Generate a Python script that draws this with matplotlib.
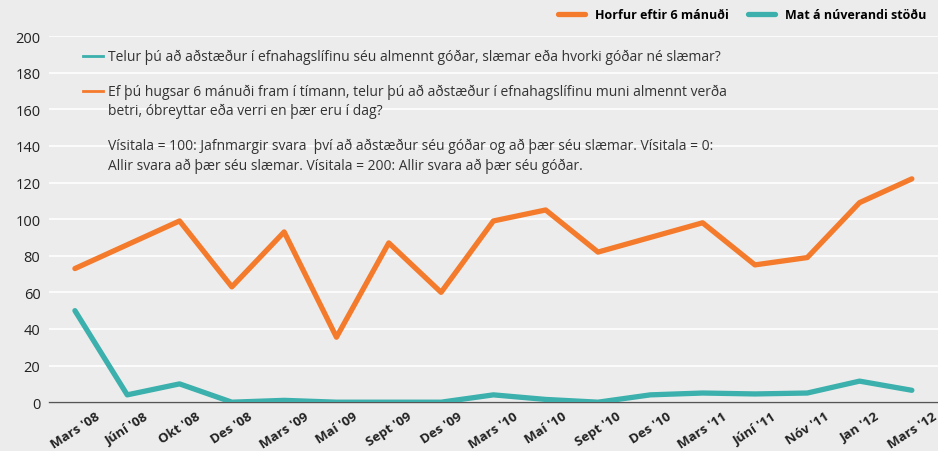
import matplotlib.pyplot as plt

plt.rcParams['font.family'] = ['Open Sans', 'DejaVu Sans']

labels = ["Mars '08", "Júní '08", "Okt '08", "Des '08", "Mars '09", "Maí '09",
          "Sept '09", "Des '09", "Mars '10", "Maí '10", "Sept '10", "Des '10",
          "Mars '11", "Júní '11", "Nóv '11", "Jan '12", "Mars '12"]
horfur = [73, 86, 99, 63, 93, 35.5, 87, 60, 99, 105, 82, 90, 98, 75, 79, 109, 122]
mat = [50, 4, 10, 0, 1, 0, 0, 0, 4, 1.5, 0, 4, 5, 4.5, 5, 11.5, 6.5]

orange = '#f47a2c'
teal = '#3bb0ac'
bg = '#ececec'

fig = plt.figure(figsize=(9.38, 4.52), dpi=100, facecolor=bg)
ax = fig.add_axes([0.052, 0.108, 0.948, 0.81], facecolor=bg)

x = list(range(len(labels)))
ax.plot(x, horfur, color=orange, lw=3.8, solid_capstyle='round', label='Horfur eftir 6 mánuði', zorder=3)
ax.plot(x, mat, color=teal, lw=3.8, solid_capstyle='round', label='Mat á núverandi stöðu', zorder=3)

ax.set_xlim(-0.5, 16.5)
ax.set_ylim(0, 200)
ax.set_yticks(range(0, 201, 20))
ax.grid(axis='y', color='white', lw=1.2)
ax.set_axisbelow(True)
for s in ['top', 'right', 'left']:
    ax.spines[s].set_visible(False)
ax.spines['bottom'].set_color('#555555')
ax.spines['bottom'].set_linewidth(1)
ax.tick_params(axis='both', length=0, colors='#222222')
ax.tick_params(axis='y', labelsize=10.5, pad=6)
ax.tick_params(axis='x', pad=5)
ax.set_xticks(x)
ax.set_xticklabels(labels, rotation=33, ha='center', fontsize=9.5, fontweight='bold')

leg = fig.legend(loc='upper right', bbox_to_anchor=(1.0, 1.005), ncol=2, frameon=False,
                 prop={'size': 9, 'weight': 'bold'}, handlelength=2.2, columnspacing=1.5)

txt = '#333333'
fs = 10
ax.plot([0.15, 0.53], [189, 189], color=teal, lw=2)
ax.text(0.63, 189, 'Telur þú að aðstæður í efnahagslífinu séu almennt góðar, slæmar eða hvorki góðar né slæmar?',
        va='center', fontsize=fs, color=txt)
ax.plot([0.15, 0.53], [170, 170], color=orange, lw=2)
ax.text(0.63, 170, 'Ef þú hugsar 6 mánuði fram í tímann, telur þú að aðstæður í efnahagslífinu muni almennt verða',
        va='center', fontsize=fs, color=txt)
ax.text(0.63, 159.5, 'betri, óbreyttar eða verri en þær eru í dag?', va='center', fontsize=fs, color=txt)
ax.text(0.63, 140.5, 'Vísitala = 100: Jafnmargir svara  því að aðstæður séu góðar og að þær séu slæmar. Vísitala = 0:',
        va='center', fontsize=fs, color=txt)
ax.text(0.63, 129.5, 'Allir svara að þær séu slæmar. Vísitala = 200: Allir svara að þær séu góðar.',
        va='center', fontsize=fs, color=txt)

fig.savefig('out.png', dpi=100, facecolor=bg)
